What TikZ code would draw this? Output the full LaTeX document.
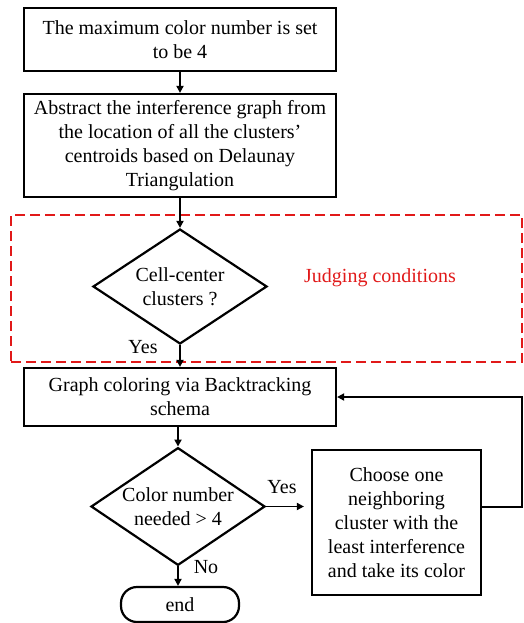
\documentclass[tikz,border=0pt]{standalone}
\usepackage{fontspec}
\setmainfont{Liberation Serif}
\usepackage{xcolor}
\usetikzlibrary{arrows.meta, positioning, shapes.geometric}

\definecolor{judgered}{RGB}{225,25,25}

\begin{document}
\begin{tikzpicture}[
  x=1pt,
  y=-1pt,
  font=\fontsize{20}{24}\selectfont,
  box/.style={
    rectangle,
    draw,
    line width=2.2pt,
    align=center,
    inner sep=0pt,
    minimum width=312pt
  },
  decision/.style={
    diamond,
    draw,
    line width=2.2pt,
    align=center,
    inner sep=-8pt,
    minimum width=174pt,
    minimum height=115pt
  },
  terminal/.style={
    rectangle,
    draw,
    rounded corners=16pt,
    line width=2.2pt,
    minimum width=118pt,
    minimum height=35pt
  },
  judgeframe/.style={
    rectangle,
    draw=judgered,
    dashed,
    dash pattern=on 10pt off 5pt,
    line width=2.2pt,
    minimum width=511pt,
    minimum height=147pt
  },
  arrow/.style={-{Triangle[length=7pt,width=7pt]}, line width=1.8pt},
  label/.style={inner sep=0pt}
]

\useasboundingbox (0,0) rectangle (523,623);

\node[judgeframe] (frame) at (266.5,288.5) {};
\node[label, text=judgered] (judge) at (380,278) {Judging conditions};

\node[box, minimum height=63pt] (start) at (180,39.5)
{The maximum color number is set\\to be 4};

\node[box, minimum height=103pt] (abstract) at (180,145.5)
{Abstract the interference graph from\\the location of all the clusters'\\centroids based on Delaunay\\Triangulation};

\node[decision] (cellc) at (180,286.5) {Cell-center\\clusters ?};

\node[box, minimum height=58pt] (graph) at (180,397)
{Graph coloring via Backtracking\\schema};

\node[decision, minimum height=113pt] (colornum) at (178,506.5)
{Color number\\needed > 4};

\node[box, minimum width=169pt, minimum height=145pt] (choose) at (396.5,522.5)
{Choose one\\neighboring\\cluster with the\\least interference\\and take its color};

\node[terminal] (end) at (180,604.5) {end};

\node[label] (yes1) at (143,347) {Yes};
\node[label] (yes2) at (282,487) {Yes};
\node[label] (no) at (206,567) {No};

\coordinate (loop) at (522,507);

\draw[arrow] (start) -- (abstract);
\draw[arrow] (abstract) -- (cellc);
\draw[arrow] (cellc) -- (graph);
\draw[arrow] (graph.south -| colornum.north) -- (colornum.north);
\draw[arrow, shorten >=7pt] (colornum.east) -- (choose.west |- colornum.east);
\draw[arrow] (colornum.south) -- (end.north -| colornum.south);
\draw[arrow] (choose.east |- loop) -- (loop) |- (graph.east);

\end{tikzpicture}
\end{document}
